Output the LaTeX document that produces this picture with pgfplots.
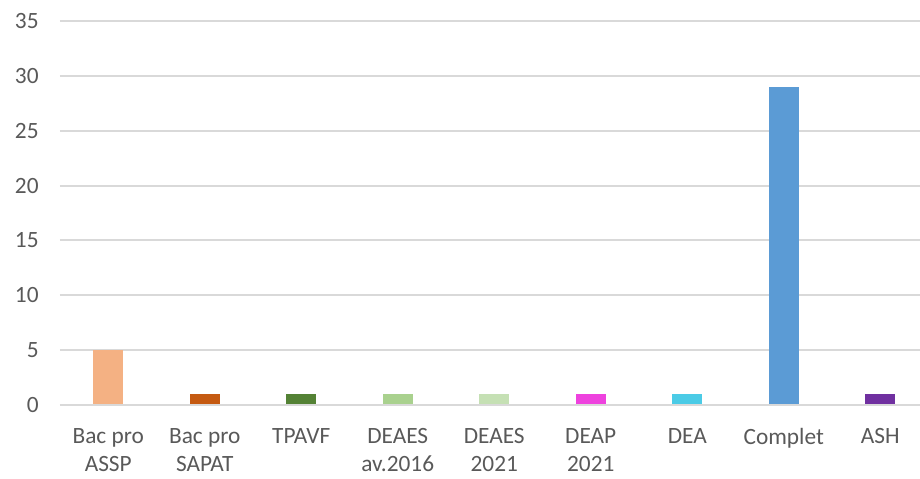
\documentclass[border=0pt]{standalone}
\usepackage{fontspec}
\setmainfont{Carlito}
\usepackage{pgfplots}
\pgfplotsset{compat=1.18}
\definecolor{gridgray}{HTML}{D9D9D9}
\definecolor{txtgray}{HTML}{595959}
\definecolor{cA}{HTML}{F4B183}
\definecolor{cB}{HTML}{C55A11}
\definecolor{cC}{HTML}{548235}
\definecolor{cD}{HTML}{A9D18E}
\definecolor{cE}{HTML}{C5E0B4}
\definecolor{cF}{HTML}{EE42DE}
\definecolor{cG}{HTML}{4BCBE6}
\definecolor{cH}{HTML}{5B9BD5}
\definecolor{cI}{HTML}{7030A0}
\begin{document}
\begin{tikzpicture}
\begin{axis}[
    scale only axis,
    width=645pt, height=288pt,
    xmin=-0.5, xmax=8.412,
    ymin=0, ymax=35,
    ytick={0,5,...,35},
    xtick={0,...,8},
    xticklabels={{Bac pro\\ASSP},{Bac pro\\SAPAT},TPAVF,{DEAES\\av.2016},{DEAES\\2021},{DEAP\\2021},DEA,Complet,ASH},
    axis line style={draw=none},
    axis x line*=bottom,
    axis y line*=left,
    major tick length=0pt,
    ymajorgrids=true,
    grid style={gridgray, line width=1.4pt},
    tick label style={font=\fontsize{17.5}{21}\selectfont, text=txtgray},
    /pgf/number format/assume math mode=true,
    x tick label style={align=center, yshift=-14pt, anchor=north},
    y tick label style={xshift=-12.5pt},
    ybar, bar width=22.5pt, bar shift=0pt,
    clip=false,
]
\addplot[fill=cA, draw=none] coordinates {(0,5)};
\addplot[fill=cB, draw=none] coordinates {(1,1)};
\addplot[fill=cC, draw=none] coordinates {(2,1)};
\addplot[fill=cD, draw=none] coordinates {(3,1)};
\addplot[fill=cE, draw=none] coordinates {(4,1)};
\addplot[fill=cF, draw=none] coordinates {(5,1)};
\addplot[fill=cG, draw=none] coordinates {(6,1)};
\addplot[fill=cH, draw=none] coordinates {(7,29)};
\addplot[fill=cI, draw=none] coordinates {(8,1)};
\draw[gridgray, line width=1.4pt] (rel axis cs:0,0) -- (rel axis cs:1,0);
\coordinate (sw) at (rel axis cs:0,0);
\coordinate (ne) at (rel axis cs:1,1);
\end{axis}
\pgfresetboundingbox
\path ([shift={(-45pt,-54.75pt)}]sw) rectangle ([shift={(0pt,15.75pt)}]ne);
\end{tikzpicture}
\end{document}
